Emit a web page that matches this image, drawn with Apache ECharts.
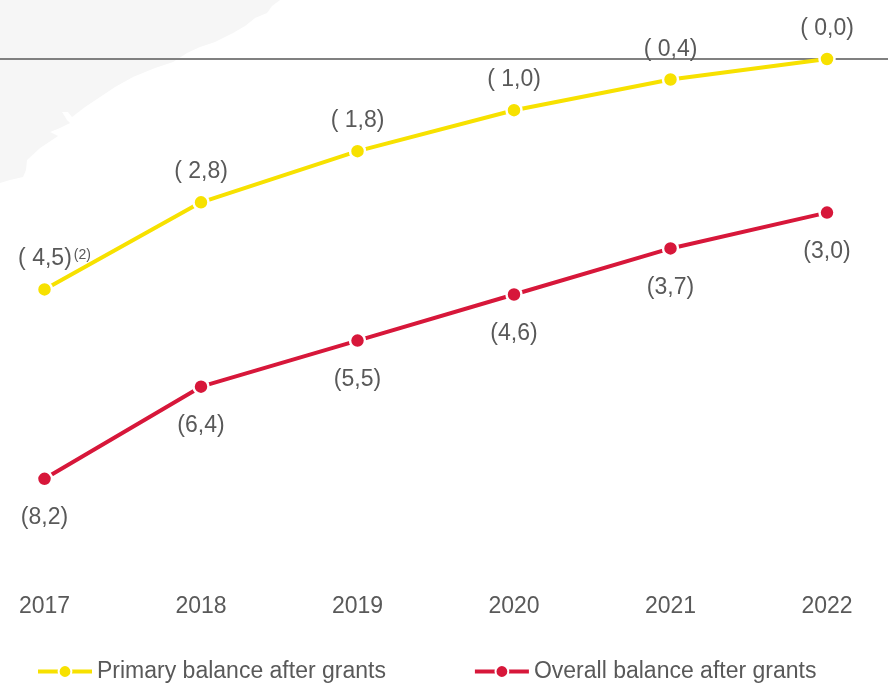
<!DOCTYPE html>
<html><head><meta charset="utf-8">
<style>html,body{margin:0;padding:0;background:#fff;overflow:hidden}#c{width:888px;height:683px}</style>
<script src="https://cdn.jsdelivr.net/npm/echarts@6/dist/echarts.min.js"></script>
</head><body><div id="c"></div>
<script>
const years = ['2017','2018','2019','2020','2021','2022'];
const primaryName = 'Primary balance after grants';
const overallName = 'Overall balance after grants';
const primaryValues = [-4.5,-2.8,-1.8,-1.0,-0.4,0.0];
const overallValues = [-8.2,-6.4,-5.5,-4.6,-3.7,-3.0];
const primaryLabels = ['( 4,5)','( 2,8)','( 1,8)','( 1,0)','( 0,4)','( 0,0)'];
const overallLabels = ['(8,2)','(6,4)','(5,5)','(4,6)','(3,7)','(3,0)'];
const footnote = '(2)';
const FONT = '"Liberation Sans",sans-serif';
const TXT = '#595959';
const FS = 23;
const chart = echarts.init(document.getElementById('c'), null, {renderer:'canvas'});
const coast = [[0,0],[280,0],[272,6],[267,13],[255,18],[245,26],[233,33],[215,42],[200,47],[187,53],[173,62],[155,68],[133,77],[115,87],[100,97],[85,107],[72,117],[68,112],[62,112],[67,120],[70,123],[60,128],[50,132],[58,136],[40,148],[27,160],[26,170],[23,177],[10,180],[0,183]];
chart.setOption({
  animation:false,
  backgroundColor:'#fff',
  textStyle:{fontFamily:FONT},
  graphic:[{type:'polygon',z:-10,silent:true,shape:{points:coast},style:{fill:'#f6f6f6'}}],
  grid:{left:-33.75,width:939,top:7.8,height:563.2,containLabel:false,outerBoundsMode:'none'},
  legend:{left:36,top:660,padding:0,itemWidth:54,itemHeight:16,itemGap:87,
    data:[primaryName,overallName],
    lineStyle:{width:4},
    textStyle:{fontFamily:FONT,fontSize:FS,color:TXT}},
  xAxis:{type:'category',data:years,position:'bottom',
    axisLine:{show:false,onZero:false},axisTick:{show:false},
    axisLabel:{fontFamily:FONT,fontSize:FS,color:TXT,margin:24}},
  yAxis:{type:'value',min:-10,max:1,interval:1,show:false,splitLine:{show:false}},
  series:[
   {name:primaryName,type:'line',data:primaryValues,z:3,
    lineStyle:{color:'#f7e100',width:4},symbol:'circle',symbolSize:15,showAllSymbol:true,
    itemStyle:{color:'#f7e100',borderColor:'#fff',borderWidth:2.5},
    label:{show:true,position:'top',distance:10,fontFamily:FONT,fontSize:FS,color:TXT,
      formatter:p=>p.dataIndex===0?`${primaryLabels[0]}{s|${footnote}}`:primaryLabels[p.dataIndex],
      rich:{s:{fontFamily:FONT,fontSize:14,color:TXT,padding:[0,0,8,2]}}},
    labelLayout:p=>p.dataIndex===0?{dx:10}:{},
    markLine:{silent:true,symbol:'none',label:{show:false},animation:false,z:1,
      lineStyle:{color:'#808080',width:2,type:'solid'},data:[{yAxis:0}]}},
   {name:overallName,type:'line',data:overallValues,z:3,
    lineStyle:{color:'#d7173a',width:4},symbol:'circle',symbolSize:15,showAllSymbol:true,
    itemStyle:{color:'#d7173a',borderColor:'#fff',borderWidth:2.5},
    label:{show:true,position:'bottom',distance:19,fontFamily:FONT,fontSize:FS,color:TXT,
      formatter:p=>overallLabels[p.dataIndex]}}
  ]
});
</script></body></html>
